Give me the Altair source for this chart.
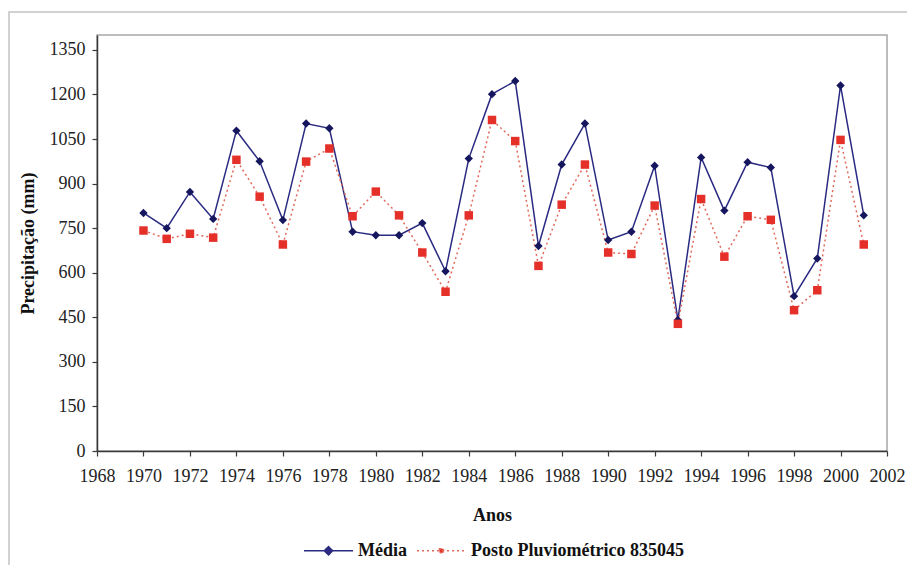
import altair as alt
import pandas as pd

years = [1970, 1971, 1972, 1973, 1974, 1975, 1976, 1977, 1978, 1979,
         1980, 1981, 1982, 1983, 1984, 1985, 1986, 1987, 1988, 1989,
         1990, 1991, 1992, 1993, 1994, 1995, 1996, 1997, 1998, 1999,
         2000, 2001]
media = [801, 750, 872, 781, 1078, 975, 777, 1102, 1086, 738,
         726, 726, 767, 605, 984, 1201, 1245, 690, 964, 1102,
         710, 738, 960, 441, 988, 809, 972, 954, 521, 648,
         1230, 793]
posto = [742, 714, 731, 718, 980, 856, 695, 974, 1018, 790,
         873, 793, 668, 536, 793, 1114, 1043, 623, 829, 964,
         668, 663, 826, 428, 848, 654, 790, 778, 474, 541,
         1047, 695]
series_names = ["Média", "Posto Pluviométrico 835045"]
x_ticks = list(range(1968, 2003, 2))
y_ticks = list(range(0, 1351, 150))

df = pd.DataFrame({
    "Ano": years + years,
    "Precip": media + posto,
    "Serie": [series_names[0]] * len(years) + [series_names[1]] * len(years),
})

FONT = "Liberation Serif"
BLUE_LINE = "#2a2a82"
BLUE_PT = "#16165e"
RED_LINE = "#e06a5c"
RED_PT = "#e5302a"

x_enc = alt.X(
    "Ano:Q",
    scale=alt.Scale(domain=[1968, 2002], nice=False, zero=False),
    axis=alt.Axis(values=x_ticks, format="d", title="Anos",
                  labelFlush=False, labelOverlap=False, labelPadding=11,
                  titleX=395, titleY=64, titleBaseline="middle", titleAlign="center"),
)
y_enc = alt.Y(
    "Precip:Q",
    scale=alt.Scale(domain=[0, 1400], nice=False),
    axis=alt.Axis(values=y_ticks, format="d", title="Precipitação (mm)", labelPadding=7,
                  labelOverlap=False,
                  titleX=-69, titleY=208, titleAngle=270, titleBaseline="middle",
                  titleAlign="center"),
)

base = alt.Chart(df)

frame = alt.Chart(pd.DataFrame({"a": [0]})).mark_rect(
    fill="transparent", stroke="#c4c4c4", strokeWidth=1.5, clip=False
).encode(x=alt.value(-88), x2=alt.value(1000), y=alt.value(-23), y2=alt.value(1000))

m = base.transform_filter(alt.datum.Serie == series_names[0])
p = base.transform_filter(alt.datum.Serie == series_names[1])

media_line = m.mark_line(color=BLUE_LINE, strokeWidth=1.5).encode(x=x_enc, y=y_enc)
media_pts = m.mark_point(shape="diamond", filled=True, size=70, color=BLUE_PT,
                         opacity=1).encode(x=x_enc, y=y_enc)
posto_line = p.mark_line(color=RED_LINE, strokeWidth=1.5, strokeDash=[2, 3]).encode(x=x_enc, y=y_enc)
posto_pts = p.mark_point(shape="square", filled=True, size=72, color=RED_PT,
                         opacity=1).encode(x=x_enc, y=y_enc)

legend = alt.Legend(
    orient="none", legendX=206, legendY=490, direction="horizontal", title=None,
    symbolSize=2401, symbolStrokeWidth=1.5, labelFont=FONT, labelFontSize=18,
    labelFontWeight="bold", labelColor="#111111", labelOffset=4, columnPadding=7,
    padding=0, labelLimit=400,
)
shape_paths = [
    "M-1,0H1M0,-0.17L0.17,0L0,0.17L-0.17,0Z",
    "M-1,0H1M-0.085,-0.085H0.085V0.085H-0.085Z",
]
leg = base.transform_filter("false").mark_point(filled=True, opacity=1, strokeWidth=1.5).encode(
    fill=alt.Fill("Serie:N", scale=alt.Scale(domain=series_names, range=[BLUE_LINE, RED_PT]), legend=legend),
    stroke=alt.Stroke("Serie:N", scale=alt.Scale(domain=series_names, range=[BLUE_LINE, RED_LINE]), legend=legend),
    shape=alt.Shape("Serie:N", scale=alt.Scale(domain=series_names, range=shape_paths), legend=legend),
    strokeDash=alt.StrokeDash("Serie:N", scale=alt.Scale(domain=series_names, range=[[1, 0], [2, 3]]), legend=legend),
)

chart = alt.layer(frame, media_line, posto_line, media_pts, posto_pts, leg).properties(
    width=790, height=416,
    padding={"left": 97, "top": 35, "right": 20, "bottom": 114},
    autosize=alt.AutoSizeParams(type="none"),
    background="white",
).configure(
    font=FONT
).configure_view(
    stroke="#a8a8a8", strokeWidth=1.5
).configure_axis(
    grid=False, domainColor="#3a3a3a", domainWidth=1.5, tickColor="#3a3a3a",
    tickSize=5, tickWidth=1.2, labelFont=FONT, labelFontSize=18, labelColor="#222222",
    titleFont=FONT, titleFontSize=18, titleFontWeight="bold", titleColor="#111111",
).configure_legend(
    labelFont=FONT, labelFontSize=18, labelFontWeight="bold", labelColor="#111111",
)

chart.save("out.html", embed_options={"renderer": "svg", "actions": False})
